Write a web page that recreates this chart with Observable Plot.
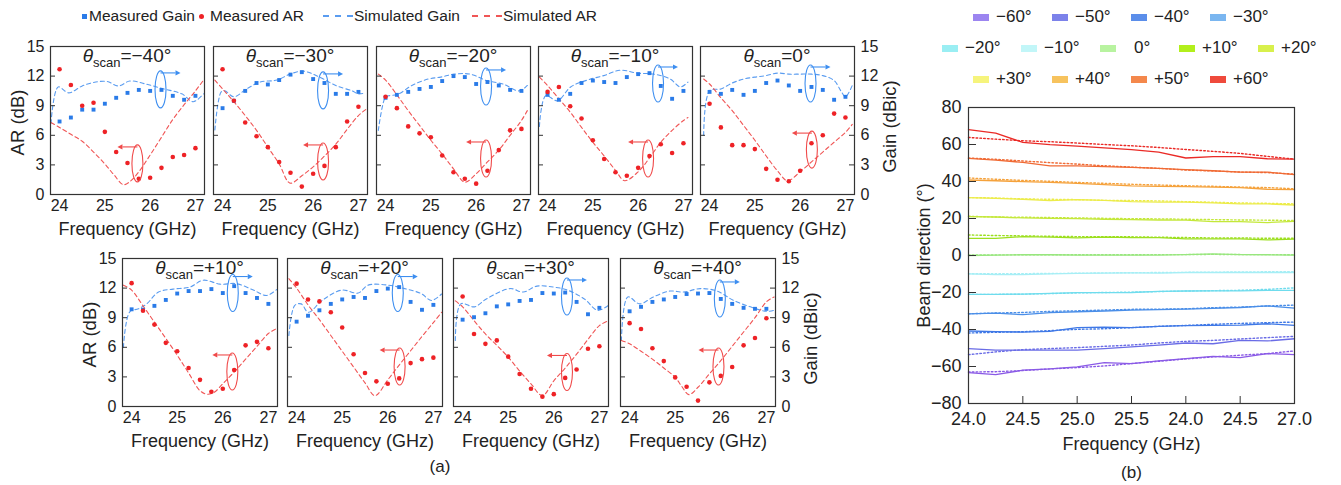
<!DOCTYPE html>
<html><head><meta charset="utf-8">
<script src="https://cdn.jsdelivr.net/npm/d3@7"></script>
<script src="https://cdn.jsdelivr.net/npm/@observablehq/plot@0.6"></script>
<style>
body{margin:0;background:#fff;font-family:"Liberation Sans",Arial,Helvetica,sans-serif;}
#root{position:relative;width:1341px;height:485px;overflow:hidden;background:#fff;}
</style></head><body><div id="root"></div><script>
// ---------------- (a) data ----------------
const freqs = [24,24.25,24.5,24.75,25,25.25,25.5,25.75,26,26.25,26.5,26.75,27];
const scanLabels = ["−40°","−30°","−20°","−10°","0°","+10°","+20°","+30°","+40°"];
const measuredGain = [
 [7.4,7.8,8.6,8.6,9.2,9.8,10.3,10.6,10.5,10.6,10.0,9.6,10.0],
 [8.75,9.5,10.5,11.3,11.15,11.6,12.15,12.4,11.7,11.3,10.2,10.2,10.4],
 [9.8,10.1,10.4,10.7,10.9,11.5,12.0,11.9,11.2,11.4,11.05,10.6,10.5],
 [10.1,9.6,10.2,11.3,11.55,11.4,11.3,11.9,12.2,12.3,11.0,9.7,10.5],
 [10.4,10.2,10.6,10.1,10.5,11.3,11.55,11.05,10.5,10.9,10.6,9.6,9.9],
 [9.85,9.8,10.2,10.8,11.45,11.7,11.7,11.9,11.5,12.2,11.5,11.0,10.4],
 [8.6,9.2,9.75,10.4,10.85,11.1,11.0,11.7,11.95,12.1,10.6,9.8,10.3],
 [8.8,9.05,9.45,10.15,10.35,10.7,10.8,11.5,11.45,11.55,10.6,9.35,10.0],
 [9.65,10.1,10.6,10.85,11.1,11.4,11.45,11.5,10.9,10.4,10.0,9.9,9.9]
];
const measuredAR = [
 [12.7,11.1,9.0,9.3,6.35,4.3,3.2,1.6,1.7,2.7,3.8,4.0,4.7],
 [12.7,9.5,7.3,5.9,4.8,3.3,2.2,0.8,2.1,2.9,4.8,7.4,8.9],
 [9.9,8.75,6.9,6.2,5.8,3.95,2.25,1.6,1.1,2.4,4.5,6.5,6.65],
 [10.4,10.9,8.95,7.7,5.5,3.6,2.25,1.9,2.7,3.9,5.1,4.2,5.2],
 [9.2,6.8,5.0,5.0,4.6,2.6,1.5,1.35,2.4,5.2,6.0,8.2,7.8],
 [12.5,9.7,8.3,6.45,5.6,3.9,2.7,1.5,1.8,3.7,6.2,6.55,5.9],
 [12.45,10.85,10.65,9.55,8.0,5.3,3.4,2.55,2.3,2.85,4.4,4.8,4.95],
 [11.15,7.35,6.35,6.7,5.05,3.3,1.8,1.0,1.25,2.9,3.75,5.85,6.1],
 [8.45,7.85,5.9,4.6,2.95,2.0,0.6,2.45,3.1,4.0,6.2,6.95,8.95]
];
const simulatedGain = [
 [[23.81,7.2],[23.97,10.9],[24.2,10.3],[24.5,11.0],[24.8,11.4],[25.05,11.45],[25.3,11.0],[25.55,11.5],[25.9,11.2],[26.3,10.7],[26.7,10.2],[26.95,9.4],[27.18,10.2]],
 [[23.83,6.55],[23.97,10.4],[24.05,10.5],[24.25,9.9],[24.53,10.7],[24.83,11.4],[25.2,11.6],[25.49,12.2],[25.78,12.5],[26.14,11.9],[26.5,11.05],[26.86,10.5],[27.0,10.2],[27.16,10.3]],
 [[23.84,6.5],[24.0,9.9],[24.07,10.0],[24.29,10.2],[24.58,11.05],[24.94,11.7],[25.22,11.9],[25.51,12.2],[25.87,12.2],[26.23,11.55],[26.59,11.2],[26.95,10.5],[27.13,11.05]],
 [[23.82,6.9],[23.96,10.0],[24.22,9.5],[24.51,10.9],[24.88,11.6],[25.24,12.05],[25.61,12.6],[25.98,12.3],[26.35,12.2],[26.71,11.7],[26.93,10.9],[27.1,11.4]],
 [[23.87,6.0],[24.0,10.5],[24.25,10.7],[24.5,11.3],[24.75,11.7],[25.0,11.9],[25.25,12.05],[25.5,12.3],[25.75,12.2],[26.0,12.2],[26.25,12.2],[26.5,12.05],[26.75,11.55],[26.9,10.5],[27.0,9.9],[27.15,11.05]],
 [[23.82,6.0],[23.96,9.6],[24.15,9.9],[24.33,10.4],[24.59,11.6],[24.91,11.9],[25.28,12.1],[25.57,12.8],[25.94,12.4],[26.3,12.45],[26.67,11.8],[26.96,11.25],[27.18,11.85]],
 [[23.83,7.2],[23.96,10.25],[24.1,10.4],[24.26,9.55],[24.56,10.75],[24.99,11.8],[25.35,11.5],[25.57,12.3],[26.01,12.3],[26.37,11.95],[26.73,11.45],[26.96,10.75],[27.18,11.4]],
 [[23.84,6.7],[23.96,10.4],[24.26,10.1],[24.52,10.9],[25.04,11.95],[25.33,11.6],[25.63,12.2],[26.0,12.1],[26.3,11.8],[26.67,10.9],[26.96,9.75],[27.2,10.25]],
 [[23.82,6.7],[23.96,11.1],[24.22,10.4],[24.52,11.1],[24.88,11.7],[25.18,11.6],[25.55,11.95],[25.92,11.7],[26.28,10.75],[26.65,10.1],[27.0,9.65],[27.17,9.75]]
];
const simulatedAR = [
 [[23.81,7.3],[24.0,6.8],[24.25,6.1],[24.5,5.4],[24.75,4.3],[25.0,3.1],[25.2,2.0],[25.41,1.0],[25.55,1.3],[25.75,2.3],[26.0,4.0],[26.25,5.8],[26.5,7.6],[26.75,9.1],[27.0,10.5],[27.18,11.6]],
 [[23.83,11.6],[24.0,10.7],[24.25,9.4],[24.5,8.0],[24.75,6.5],[25.0,4.8],[25.25,3.1],[25.49,1.15],[25.75,1.9],[26.0,2.8],[26.25,3.9],[26.5,5.1],[26.75,6.6],[27.0,8.0],[27.16,8.6]],
 [[23.84,12.2],[24.0,11.6],[24.25,10.1],[24.5,8.5],[24.75,7.0],[25.0,5.5],[25.25,4.1],[25.5,2.6],[25.75,1.25],[26.0,2.1],[26.25,3.3],[26.5,4.5],[26.75,6.0],[27.0,7.5],[27.13,8.5]],
 [[23.82,11.9],[24.0,11.05],[24.25,9.7],[24.5,8.35],[24.75,6.8],[25.0,5.3],[25.25,3.9],[25.5,2.45],[25.7,1.4],[26.0,2.3],[26.25,3.7],[26.5,5.3],[26.75,6.5],[27.0,7.5],[27.1,7.8]],
 [[23.87,11.7],[24.0,11.2],[24.25,9.8],[24.5,8.5],[24.75,7.0],[25.0,5.5],[25.25,3.9],[25.5,2.4],[25.72,1.4],[26.0,2.3],[26.25,3.3],[26.5,4.3],[26.75,5.3],[27.0,6.3],[27.15,7.1]],
 [[23.82,12.3],[24.0,11.8],[24.25,10.2],[24.5,8.55],[24.75,6.9],[25.0,5.2],[25.25,3.4],[25.5,1.6],[25.65,1.25],[25.8,1.4],[26.0,2.3],[26.25,3.5],[26.5,4.8],[26.75,6.1],[27.0,7.4],[27.18,7.9]],
 [[23.83,12.95],[24.0,12.0],[24.25,10.3],[24.5,8.8],[24.75,7.2],[25.0,5.6],[25.25,4.0],[25.5,2.4],[25.72,1.1],[26.0,2.7],[26.25,4.2],[26.5,5.65],[26.75,7.1],[27.0,8.5],[27.18,9.55]],
 [[23.84,10.7],[24.0,10.1],[24.25,8.7],[24.5,7.35],[24.75,6.2],[25.0,5.0],[25.25,3.6],[25.5,2.3],[25.75,1.1],[26.0,2.6],[26.25,3.9],[26.5,5.3],[26.75,6.8],[27.0,8.2],[27.2,8.7]],
 [[23.82,6.7],[24.0,6.35],[24.25,5.6],[24.5,4.8],[24.75,3.9],[25.0,2.95],[25.15,2.0],[25.3,1.2],[25.5,1.95],[25.75,3.3],[26.0,4.65],[26.25,6.1],[26.5,7.55],[26.75,9.0],[27.0,10.6],[27.17,11.1]]
];
// annotation ellipse centres (frequency, value): gain group and AR group
const gainMarker = [[26.24,10.6],[26.23,10.5],[26.23,10.9],[26.45,11.2],[26.24,11.2],[26.23,11.45],[26.23,11.45],[26.3,11.1],[25.99,10.9]];
const arMarker = [[25.73,3.1],[26.23,3.3],[26.23,3.6],[26.23,3.6],[26.27,4.5],[26.22,3.5],[26.27,4.0],[26.3,3.45],[25.96,4.0]];
const panelYTicks = [0,3,6,9,12,15];
const panelXTicks = [24,25,26,27];
const legendLabelsA = ["Measured Gain","Measured AR","Simulated Gain","Simulated AR"];

// ---------------- (b) data ----------------
const beamAngles = ["−60°","−50°","−40°","−30°","−20°","−10°","0°","+10°","+20°","+30°","+40°","+50°","+60°"];
const beamMeasured = [
 [-63.3,-64.4,-62.0,-61.3,-60.2,-57.9,-58.4,-57.0,-55.7,-54.5,-55.2,-53.0,-53.6],
 [-50.3,-51.2,-51.2,-51.2,-51.2,-50.3,-49.4,-48.5,-47.3,-47.7,-45.9,-46.2,-45.0],
 [-40.8,-41.2,-41.4,-41.0,-39.0,-38.7,-39.0,-38.3,-37.9,-37.8,-37.6,-36.9,-37.8],
 [-31.5,-31.1,-32.0,-30.9,-30.4,-30.0,-29.5,-29.3,-29.0,-28.6,-28.1,-27.2,-28.4],
 [-21.0,-21.0,-20.9,-20.5,-20.1,-20.1,-20.0,-19.4,-19.2,-19.1,-19.1,-18.9,-18.9],
 [-9.9,-10.3,-10.3,-9.9,-9.7,-9.5,-9.4,-9.5,-9.2,-9.2,-9.2,-9.2,-9.2],
 [0.0,0.2,0.4,0.4,0.2,0.2,0.2,0.2,0.5,0.9,0.5,0.4,0.2],
 [9.3,9.3,10.2,9.9,9.5,9.9,9.7,9.7,9.0,9.0,9.0,8.4,8.8],
 [21.0,20.8,20.3,20.1,19.9,19.6,19.4,19.2,19.1,18.3,18.3,17.8,18.5],
 [31.3,30.9,30.4,29.7,30.2,29.8,29.1,28.9,28.9,28.4,27.9,27.9,27.3],
 [40.8,40.4,39.9,39.5,39.0,38.3,37.6,37.4,37.2,37.0,36.7,35.8,35.6],
 [52.5,51.6,50.3,48.5,48.4,48.0,47.6,47.1,46.4,45.8,45.1,45.1,43.7],
 [68.0,66.2,61.1,59.9,59.1,58.2,57.2,55.9,52.7,53.4,53.4,52.3,52.1]
];
const beamSimulated = [
 [-63.0,-62.8,-62.2,-61.3,-60.6,-59.7,-58.4,-57.2,-55.9,-54.8,-53.9,-53.0,-51.6],
 [-53.6,-52.1,-50.9,-50.3,-49.8,-49.1,-48.4,-47.3,-46.4,-45.9,-45.1,-44.4,-43.7],
 [-41.9,-41.5,-41.2,-40.6,-39.9,-39.6,-39.0,-38.3,-37.8,-37.2,-36.7,-36.3,-36.0],
 [-31.5,-31.1,-30.8,-30.2,-29.9,-29.5,-29.1,-29.0,-28.8,-28.2,-27.9,-27.3,-26.8],
 [-21.0,-21.0,-20.9,-20.6,-20.2,-20.0,-19.8,-19.5,-19.2,-19.0,-18.8,-18.3,-17.5],
 [-9.9,-9.9,-9.8,-9.7,-9.6,-9.4,-9.3,-9.2,-9.1,-9.0,-8.9,-8.8,-8.7],
 [0.3,0.3,0.4,0.4,0.4,0.4,0.4,0.5,0.5,0.6,0.5,0.5,0.4],
 [11.1,10.8,10.6,10.4,10.2,10.2,10.1,9.9,9.7,9.5,9.5,9.3,9.3],
 [21.2,20.8,20.7,20.5,20.3,20.1,19.9,19.8,19.6,19.4,19.2,19.1,18.9],
 [31.3,31.1,30.6,30.4,30.2,29.8,29.7,29.5,29.1,28.8,28.4,28.2,27.9],
 [41.9,41.2,40.6,40.1,39.5,39.0,38.5,38.1,37.7,37.4,37.0,36.7,36.1],
 [52.7,52.0,51.1,50.2,49.4,48.5,47.8,47.1,46.2,45.7,45.1,44.8,44.0],
 [63.8,62.9,62.0,61.5,60.8,60.0,59.3,58.4,57.3,56.3,55.2,53.6,52.1]
];
const beamLineColors = ["#8a5ae6","#6a6ce6","#3f78e6","#4a8ee8","#6fdced","#a6eef5","#98e67e","#9cdf1e","#c4e83a","#ecec4a","#f5a23c","#f06a34","#ea2a26"];
const beamSwatchColors = ["#9c85f0","#7c82ea","#5b8eea","#7ab6f0","#9aeef3","#c2f6f8","#b8f3a0","#b2ef1c","#d8f04c","#f6f47c","#f7c35e","#f4884c","#ef4a3c"];
const beamXTicks = [24,24.5,25,25.5,26,26.5,27];
const beamXTickLabels = ["24.0","24.5","25.0","25.5","24.0","24.5","27.0"];
const beamYTicks = [-80,-60,-40,-20,0,20,40,60,80];

// ---------------- styles & layout ----------------
const FONT = '"Liberation Sans", Arial, Helvetica, sans-serif';
const INK = "#222";
const BLUE = "#2a7be8", BLUE_SIM = "#5a9cf0", RED = "#ee2226", RED_SIM = "#f05656";
const BLUE_ANN = "#3d8ef0", RED_ANN = "#f04a4a";
const root = document.getElementById("root");
const minus = d => d < 0 ? "−" + Math.abs(d) : String(d);

function place(el, left, top) {
  el.style.position = "absolute"; el.style.left = left + "px"; el.style.top = top + "px";
  root.appendChild(el);
}
function htmlText(txt, x, y, size, anchor = "start") {
  const d = document.createElement("div");
  d.textContent = txt;
  Object.assign(d.style, {fontSize: size + "px", lineHeight: (size * 1.2) + "px", whiteSpace: "pre", color: INK, fontFamily: FONT});
  if (anchor === "middle") d.style.transform = "translateX(-50%)";
  place(d, x, y - 0.585 * size);
  return d;
}

function titleMark(label) {
  return (index, scales, values, dims) => {
    const t = d3.create("svg:text")
      .attr("x", dims.marginLeft + (dims.width - dims.marginLeft - dims.marginRight) / 2)
      .attr("y", dims.marginTop + 16).attr("text-anchor", "middle")
      .attr("font-size", 19).attr("fill", INK).attr("font-family", FONT);
    t.append("tspan").attr("font-style", "italic").text("θ");
    t.append("tspan").attr("font-size", 13).attr("dy", 5).text("scan");
    t.append("tspan").attr("dy", -5).text("=" + label);
    return t.node();
  };
}
function markerMark(center, color, dir) {
  return (index, {x, y}) => {
    const g = d3.create("svg:g").attr("stroke", color).attr("fill", "none").attr("stroke-width", 1.1);
    const cx = x(center[0]), cy = y(center[1]);
    g.append("ellipse").attr("cx", cx).attr("cy", cy).attr("rx", 5.5).attr("ry", 18.5);
    const ay = cy - 16.5, ax2 = cx + dir * 15;
    g.append("line").attr("x1", cx).attr("y1", ay).attr("x2", ax2).attr("y2", ay);
    g.append("path").attr("d", `M${ax2 + dir * 5},${ay}L${ax2},${ay - 2.6}L${ax2},${ay + 2.6}Z`)
      .attr("fill", color).attr("stroke", "none");
    return g.node();
  };
}

function scanPanel(i, left, top, w, showLeft, showRight) {
  const H = 148, mT = 6, mB = 54, mL = showLeft ? 58 : 6, mR = showRight ? 58 : 6;
  const gainPts = freqs.map((f, j) => ({f, v: measuredGain[i][j]}));
  const arPts = freqs.map((f, j) => ({f, v: measuredAR[i][j]}));
  const inner = [3, 6, 9, 12];
  const marks = [
    Plot.line(simulatedGain[i], {x: d => d[0], y: d => d[1], stroke: BLUE_SIM, strokeWidth: 1.1, strokeDasharray: "4,3", curve: "catmull-rom"}),
    Plot.line(simulatedAR[i], {x: d => d[0], y: d => d[1], stroke: RED_SIM, strokeWidth: 1.1, strokeDasharray: "4,3", curve: "catmull-rom"}),
    Plot.dot(gainPts, {x: "f", y: "v", symbol: "square", r: 2.2, fill: BLUE, stroke: "none"}),
    Plot.dot(arPts, {x: "f", y: "v", r: 2.3, fill: RED, stroke: "none"}),
    Plot.tickY(inner, {y: d => d, stroke: "#333", insetRight: w - 5}),
    Plot.frame({stroke: "#333", strokeWidth: 1.2}),
    titleMark(scanLabels[i]),
    markerMark(gainMarker[i], BLUE_ANN, 1),
    markerMark(arMarker[i], RED_ANN, -1),
    Plot.text(["Frequency (GHz)"], {text: d => d, frameAnchor: "bottom", dy: 35, fontSize: 18, textAnchor: "middle", lineAnchor: "middle", fill: INK})
  ];
  if (showRight) {
    marks.push(Plot.tickY(inner, {y: d => d, stroke: "#333", insetLeft: w - 5}));
    marks.push(Plot.text(["Gain (dBic)"], {text: d => d, frameAnchor: "right", dx: 36, dy: 6, rotate: -90, fontSize: 18.5, textAnchor: "middle", lineAnchor: "middle", fill: INK}));
  }
  if (showLeft) {
    marks.push(Plot.text(["AR (dB)"], {text: d => d, frameAnchor: "left", dx: -32, dy: 2, rotate: -90, fontSize: 18.5, textAnchor: "middle", lineAnchor: "middle", fill: INK}));
  }
  const svg = Plot.plot({
    width: mL + w + mR, height: mT + H + mB,
    marginLeft: mL, marginRight: mR, marginTop: mT, marginBottom: mB,
    style: {background: "transparent", overflow: "visible", fontFamily: FONT, fontSize: "16px", color: INK},
    x: {domain: [23.8, 27.2], ticks: panelXTicks, tickSize: 0, tickPadding: 5, tickFormat: d => String(d), label: null},
    y: {domain: [0, 15], ticks: panelYTicks, axis: showLeft ? "left" : showRight ? "right" : null, tickSize: 0, tickPadding: 6, tickFormat: d => String(d), label: null},
    marks
  });
  place(svg, left - mL, top - mT);
}

const topLefts = [50, 213, 376, 538, 700];
const bottomLefts = [122, 287, 453, 620];
topLefts.forEach((l, k) => scanPanel(k, l, 46, 154, k === 0, k === 4));
bottomLefts.forEach((l, k) => scanPanel(5 + k, l, 258, 155, k === 0, k === 3));

// legend (a)
(function () {
  const y = 16;
  const sq = document.createElement("div");
  Object.assign(sq.style, {width: "5px", height: "5px", background: BLUE});
  place(sq, 82, y - 2.5);
  htmlText(legendLabelsA[0], 89, y, 15.5);
  const dot = document.createElement("div");
  Object.assign(dot.style, {width: "5px", height: "5px", borderRadius: "50%", background: RED});
  place(dot, 199, y - 2.5);
  htmlText(legendLabelsA[1], 210, y, 15.5);
  [[322, BLUE_SIM, 2], [471, RED_SIM, 3]].forEach(([x, c, k]) => {
    const s = document.createElementNS("http://www.w3.org/2000/svg", "svg");
    s.setAttribute("width", 32); s.setAttribute("height", 6);
    s.innerHTML = `<line x1="1" y1="3" x2="31" y2="3" stroke="${c}" stroke-width="1.8" stroke-dasharray="6,6"/>`;
    place(s, x, y - 3);
    htmlText(legendLabelsA[k], x + 32, y, 15.5);
  });
})();
htmlText("(a)", 440, 467, 17, "middle");

// ---------------- (b) ----------------
(function () {
  const W = 326, H = 296, mL = 62, mR = 12, mT = 6, mB = 80;
  const marks = [];
  beamAngles.forEach((a, k) => {
    const meas = freqs.map((f, j) => ({f, v: beamMeasured[k][j]}));
    const sim = freqs.map((f, j) => ({f, v: beamSimulated[k][j]}));
    marks.push(Plot.line(sim, {x: "f", y: "v", stroke: beamLineColors[k], strokeWidth: 1.4, strokeDasharray: "1.6,2.2"}));
    marks.push(Plot.line(meas, {x: "f", y: "v", stroke: beamLineColors[k], strokeWidth: 1.3}));
  });
  marks.push(Plot.tickX(beamXTicks.slice(1, -1), {x: d => d, stroke: "#333", insetTop: H - 7}));
  marks.push(Plot.tickY(beamYTicks.slice(1, -1), {y: d => d, stroke: "#333", insetRight: W - 8}));
  marks.push(Plot.frame({stroke: "#333", strokeWidth: 1.2}));
  marks.push(Plot.text(["Frequency (GHz)"], {text: d => d, frameAnchor: "bottom", dy: 41, fontSize: 18, textAnchor: "middle", lineAnchor: "middle", fill: INK}));
  marks.push(Plot.text(["(b)"], {text: d => d, frameAnchor: "bottom", dy: 69, fontSize: 17, textAnchor: "middle", lineAnchor: "middle", fill: INK}));
  marks.push(Plot.text(["Beam direction (°)"], {text: d => d, frameAnchor: "left", dx: -44, rotate: -90, fontSize: 18, textAnchor: "middle", lineAnchor: "middle", fill: INK}));
  const svg = Plot.plot({
    width: mL + W + mR, height: mT + H + mB,
    marginLeft: mL, marginRight: mR, marginTop: mT, marginBottom: mB,
    style: {background: "transparent", overflow: "visible", fontFamily: FONT, fontSize: "18px", color: INK},
    x: {domain: [24, 27], ticks: beamXTicks, tickSize: 0, tickPadding: 9, tickFormat: d => beamXTickLabels[beamXTicks.indexOf(d)], label: null},
    y: {domain: [-80, 80], ticks: beamYTicks, tickSize: 0, tickPadding: 7, tickFormat: minus, label: null},
    marks
  });
  place(svg, 968 - mL, 107 - mT);

  // legend (b)
  const rows = [[0, 1, 2, 3], [4, 5, 6, 7, 8], [9, 10, 11, 12]];
  const rowY = [17, 48, 79];
  const rowStart = [973, 942, 973];
  rows.forEach((row, r) => {
    row.forEach((k, c) => {
      const x = rowStart[r] + c * 79;
      const sw = document.createElement("div");
      Object.assign(sw.style, {width: "16px", height: "7px", background: beamSwatchColors[k]});
      place(sw, x, rowY[r] - 3.5);
      htmlText(beamAngles[k], x + (beamAngles[k] === "0°" ? 34 : 23), rowY[r], 17);
    });
  });
})();
</script></body></html>
